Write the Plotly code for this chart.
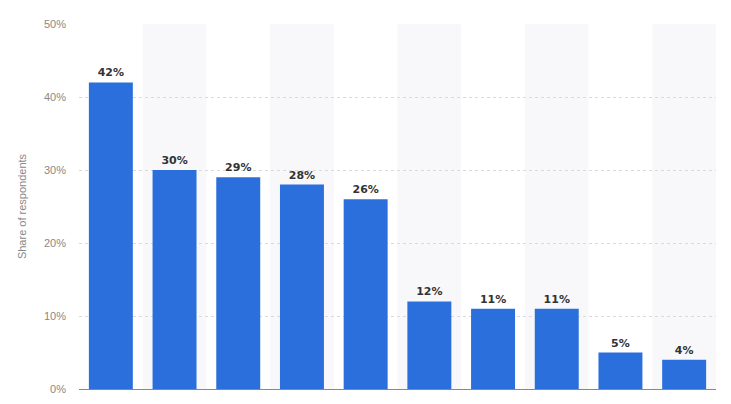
import plotly.graph_objects as go

categories = ["A", "B", "C", "D", "E", "F", "G", "H", "I", "J"]
values = [42, 30, 29, 28, 26, 12, 11, 11, 5, 4]
labels = [f"{v}%" for v in values]
tick_vals = [0, 10, 20, 30, 40, 50]
tick_text = ["0%", "10%", "20%", "30%", "40%", "50%"]

fig = go.Figure()
fig.add_trace(go.Bar(
    x=list(range(len(categories))), y=values,
    marker=dict(color="#2a6fdb", line=dict(width=0)),
    text=labels, textposition="outside",
    textfont=dict(family="DejaVu Sans", size=11, color="#333333", weight="bold"),
    cliponaxis=False, width=0.69,
))

shapes = []
for i in range(len(categories)):
    if i % 2 == 1:
        shapes.append(dict(type="rect", xref="x", yref="paper",
                           x0=i - 0.5, x1=i + 0.5, y0=0, y1=1,
                           fillcolor="#f8f8fa", line=dict(width=0), layer="below"))
fig.update_layout(
    width=731, height=404,
    margin=dict(l=71, r=23, t=16, b=23, autoexpand=False),
    paper_bgcolor="white", plot_bgcolor="white",
    shapes=shapes, showlegend=False,
    xaxis=dict(range=[-0.5, 9.5], showticklabels=False, showgrid=False, automargin=False,
               showline=True, linecolor="#888888", linewidth=1, zeroline=False),
    yaxis=dict(range=[0, 50], tickvals=tick_vals, ticktext=tick_text, automargin=False,
               showgrid=True, gridcolor="#dadada", griddash="dot", gridwidth=1,
               zeroline=False, ticks="", ticklabelstandoff=12,
               tickfont=dict(family="Liberation Sans", size=11, color="#888888"),
               title=dict(text="Share of respondents", standoff=15,
                          font=dict(family="Liberation Sans", size=11, color="#888888"))),
)
fig.write_html("out.html")
